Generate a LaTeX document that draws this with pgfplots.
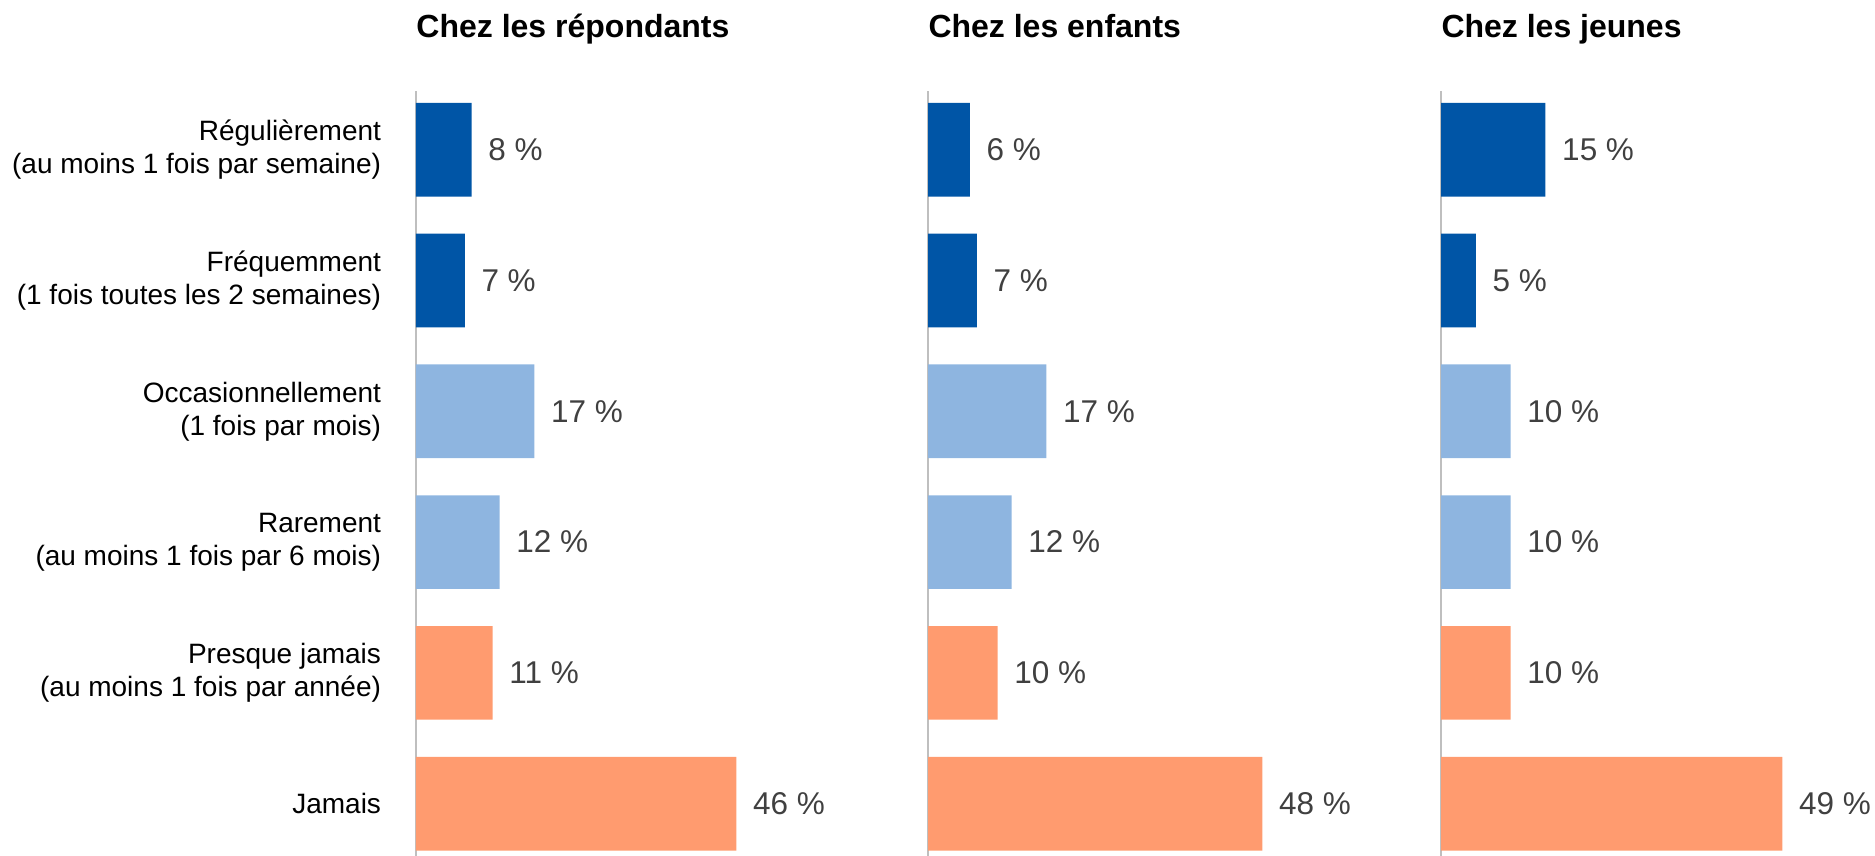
\documentclass[border=0pt]{standalone}
\usepackage{pgfplots}
\pgfplotsset{compat=1.18}
\usepackage{fontspec}
\setmainfont{Liberation Sans}
\definecolor{dblue}{RGB}{0,85,166}
\definecolor{lblue}{RGB}{142,181,224}
\definecolor{orng}{RGB}{255,155,111}
\definecolor{valgray}{RGB}{64,64,64}
\definecolor{axgray}{RGB}{191,191,191}
\pgfplotsset{panel/.style={
  x=2.786pt, y=52.32pt, y dir=reverse,
  xmin=0, xmax=61, ymin=-0.447, ymax=5.4,
  anchor=south west,
  axis x line=none, axis y line=left,
  y axis line style={-, draw=axgray, line width=0.6pt},
  ytick={0,...,5}, major tick length=0pt, yticklabels={},
  xbar, bar width=0.716, clip=false,
  point meta=x,
  /pgf/number format/assume math mode=true,
  nodes near coords={\pgfmathprintnumber{\pgfplotspointmeta}~\%},
  nodes near coords style={anchor=west, inner sep=0pt, xshift=6.5pt, text=valgray, font=\fontsize{12.6}{15}\selectfont},
  title style={at={(0,1)}, anchor=base west, yshift=15.4pt, inner sep=0pt, font=\bfseries\fontsize{12.8}{15}\selectfont},
  yticklabel style={align=right, inner sep=0pt, xshift=-13.8pt, font=\fontsize{11.2}{13.2}\selectfont},
}}
\begin{document}
\begin{tikzpicture}
\path[use as bounding box] (0,0) rectangle (750pt,342.4pt);
% Panel 1
\begin{axis}[panel, at={(166.4pt,0pt)}, title={Chez les répondants},
  yticklabels={{Régulièrement\\(au moins 1 fois par semaine)},{Fréquemment\\(1 fois toutes les 2 semaines)},{Occasionnellement\\(1 fois par mois)},{Rarement\\(au moins 1 fois par 6 mois)},{Presque jamais\\(au moins 1 fois par année)},{Jamais}}]
\addplot[fill=dblue, draw=none, bar shift=0pt] coordinates {(8,0) (7,1)};
\addplot[fill=lblue, draw=none, bar shift=0pt] coordinates {(17,2) (12,3)};
\addplot[fill=orng, draw=none, bar shift=0pt] coordinates {(11,4) (46,5)};
\end{axis}
% Panel 2
\begin{axis}[panel, at={(371.2pt,0pt)}, title={Chez les enfants}]
\addplot[fill=dblue, draw=none, bar shift=0pt] coordinates {(6,0) (7,1)};
\addplot[fill=lblue, draw=none, bar shift=0pt] coordinates {(17,2) (12,3)};
\addplot[fill=orng, draw=none, bar shift=0pt] coordinates {(10,4) (48,5)};
\end{axis}
% Panel 3
\begin{axis}[panel, at={(576.4pt,0pt)}, title={Chez les jeunes}]
\addplot[fill=dblue, draw=none, bar shift=0pt] coordinates {(15,0) (5,1)};
\addplot[fill=lblue, draw=none, bar shift=0pt] coordinates {(10,2) (10,3)};
\addplot[fill=orng, draw=none, bar shift=0pt] coordinates {(10,4) (49,5)};
\end{axis}
\end{tikzpicture}
\end{document}
